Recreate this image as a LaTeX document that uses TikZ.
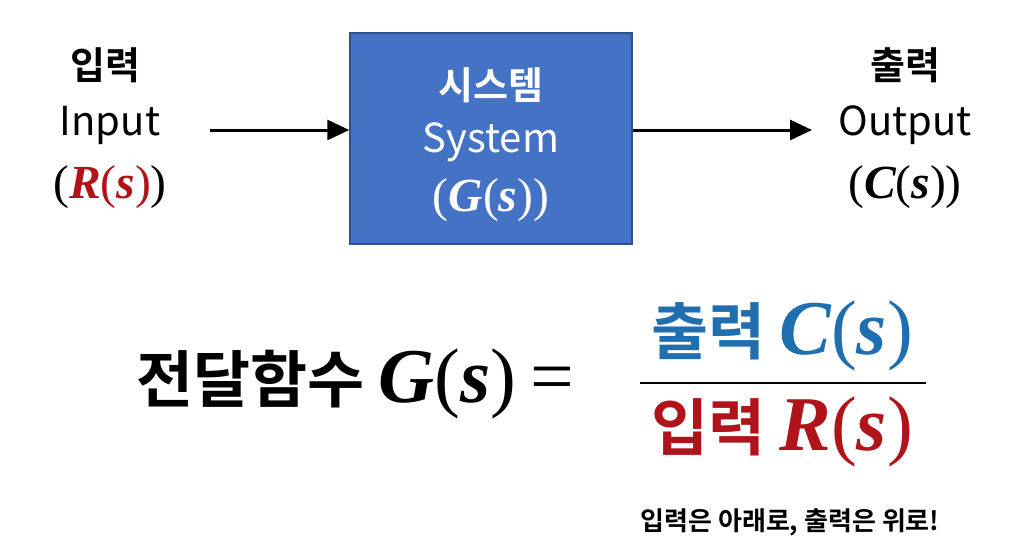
\documentclass[tikz,border=0pt]{standalone}
\usepackage{fontspec}
\setmainfont{Noto Sans CJK KR}[BoldFont={* Bold}]
\newfontfamily\kr{Noto Sans CJK KR Bold}
\newfontfamily\krr{Noto Sans CJK KR}
\newfontfamily\mathf{Liberation Serif}[Scale=1.25]
\usetikzlibrary{arrows.meta}
\definecolor{boxblue}{HTML}{4472C4}
\definecolor{boxedge}{HTML}{2F4F8F}
\definecolor{myred}{HTML}{B0141A}
\definecolor{myblue}{HTML}{1F6FB0}
\newcommand{\myv}[1]{{\mathf\bfseries\itshape #1}}
\newcommand{\myp}[1]{{\mathf #1}}
\begin{document}
\begin{tikzpicture}[x=1pt,y=-1pt,
  lbl/.style={font=\kr\fontsize{38}{40}\selectfont, inner sep=0pt},
  lat/.style={font=\krr\fontsize{40}{42}\selectfont, inner sep=0pt},
  big/.style={font=\kr\fontsize{62}{66}\selectfont, inner sep=0pt},
  arr/.style={line width=3pt,-{Triangle[length=22pt,width=20pt]}}]
\useasboundingbox (0,0) rectangle (1024,559);
\fill[white] (0,0) rectangle (1024,559);
\node[draw=boxedge, line width=1.5pt, fill=boxblue, minimum width=282pt, minimum height=211pt, inner sep=0pt] (sys) at (491,138.5) {};
\node[lbl, text=white] (s1) at (491,85) {시스템};
\node[lat, text=white] (s2) at (491,142) {System};
\node[lbl, text=white] (s3) at (491,200) {\myp{(}\myv{G}\myp{(}\myv{s}\myp{))}};
\node[lbl] (i1) at (105,65) {입력};
\node[lat] (i2) at (110,125) {Input};
\node[lbl] (i3) at (110,187) {\myp{(}\textcolor{myred}{\myv{R}\myp{(}\myv{s}\myp{)}}\myp{)}};
\node[lbl] (o1) at (905,65) {출력};
\node[lat] (o2) at (905,125) {Output};
\node[lbl] (o3) at (905,187) {\myp{(}\myv{C}\myp{(}\myv{s}\myp{))}};
\coordinate (a0) at (210,130);
\draw[arr] (a0) -- (sys.west |- a0);
\coordinate (b1) at (812,130);
\draw[arr] (sys.east |- b1) -- (b1);
\node[big] (tf) at (355,384) {전달함수 \myv{G}\myp{(}\myv{s}\myp{)} \myp{=}};
\node[big, text=myblue] (num) at (782,336) {출력 \myv{C}\myp{(}\myv{s}\myp{)}};
\coordinate (f1) at (640,383);
\coordinate (f2) at (926,383);
\draw[line width=2.5pt] (f1) -- (f2);
\node[big, text=myred] (den) at (782,432) {입력 \myv{R}\myp{(}\myv{s}\myp{)}};
\node[font=\kr\fontsize{26}{28}\selectfont, inner sep=0pt] (note) at (790,522) {입력은 아래로, 출력은 위로!};
\end{tikzpicture}
\end{document}
